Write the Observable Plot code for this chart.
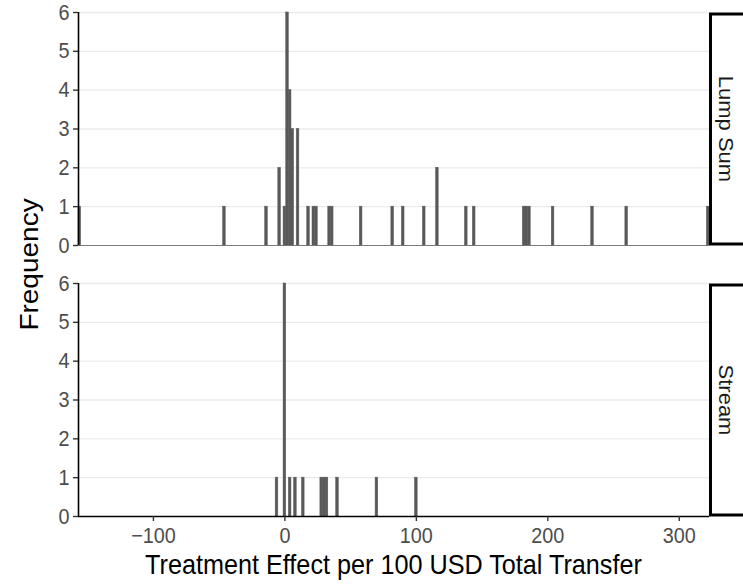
<!DOCTYPE html>
<html>
<head>
<meta charset="utf-8">
<script src="https://cdn.jsdelivr.net/npm/d3@7"></script>
<script src="https://cdn.jsdelivr.net/npm/@observablehq/plot@0.6"></script>
<style>
  html, body { margin: 0; padding: 0; background: #ffffff; }
  #chart svg { display: block; }
</style>
</head>
<body>
<div id="chart"></div>
<script>
// Facet panels (transfer modality)
const panels = ["Lump Sum", "Stream"];

// Treatment effects per 100 USD of total transfer, one entry per estimate
const lumpSumEffects = [
  -156, -46, -14, -4, -4, 0,
  2, 2, 2, 2, 2, 2,
  4, 4, 4, 4,
  6, 6, 6,
  10, 10, 10,
  18, 22, 24, 34, 36, 58, 82, 90, 106,
  116, 116, 138, 144, 182, 184, 186, 204, 234, 260, 322
];
const streamEffects = [
  -6, 0, 0, 0, 0, 0, 0, 4, 8, 14, 28, 30, 32, 40, 70, 100
];

// Axis ticks
const xTicks = [-100, 0, 100, 200, 300];
const yTicks = [0, 1, 2, 3, 4, 5, 6];

// Histogram layout: bins of width 2 with edges on odd numbers
const binWidth = 2;
const xLimits = [-157, 323];
const binEdges = d3.range(xLimits[0], xLimits[1] + binWidth / 2, binWidth);

const effects = [
  ...lumpSumEffects.map(effect => ({panel: "Lump Sum", effect})),
  ...streamEffects.map(effect => ({panel: "Stream", effect}))
];

const W = 743, H = 585;
const margin = {left: 78, right: 34, top: 12, bottom: 68};
const barColor = "#595959";
const glyphScaleX = 0.9; // slightly condensed lettering

const chart = Plot.plot({
  width: W,
  height: H,
  marginLeft: margin.left,
  marginRight: margin.right,
  marginTop: margin.top,
  marginBottom: margin.bottom,
  style: {fontFamily: "'Liberation Sans', Arial, sans-serif", background: "#ffffff", overflow: "visible"},
  x: {domain: xLimits, label: null},
  y: {domain: [0, 6], label: null},
  fy: {domain: panels, axis: null, label: null, paddingInner: 0.14, paddingOuter: 0},
  marks: [
    Plot.gridY(yTicks.filter(t => t > 0), {stroke: "#ebebeb", strokeOpacity: 1, strokeWidth: 1.4}),
    Plot.rectY(effects, Plot.binX(
      {y: "count"},
      {x: "effect", fy: "panel", thresholds: binEdges, fill: barColor, stroke: barColor, strokeWidth: 0.5, inset: 0}
    )),
    Plot.ruleY([0], {stroke: barColor, strokeWidth: 0.8}),
    Plot.ruleX([xLimits[0]], {stroke: "#000000", strokeWidth: 1.6}),
    Plot.ruleY([{panel: "Stream", y: 0}], {y: "y", fy: "panel", stroke: "#000000", strokeWidth: 1.6}),
    Plot.axisY(yTicks, {
      tickSize: 5, tickPadding: 4, fontSize: 22, fill: "#4d4d4d", stroke: "#333333", strokeWidth: 1.4, label: null
    }),
    Plot.axisX(xTicks, {
      tickSize: 5, tickPadding: 6, fontSize: 22, fill: "#4d4d4d", stroke: "#333333", strokeWidth: 1.4,
      label: null, tickFormat: d3.format("d")
    }),
    // facet strips on the right
    Plot.frame({stroke: "#000000", strokeWidth: 3, fill: "#ffffff", insetLeft: 632, insetRight: -40, insetTop: 1.5, insetBottom: 1.5}),
    Plot.text(panels, {
      fy: d => d, text: d => d, frameAnchor: "right", textAnchor: "middle", dx: 16, rotate: 90,
      fontSize: 22, fill: "#1a1a1a"
    })
  ]
});

document.getElementById("chart").append(chart);

// Axis titles
const svg = d3.select(chart);
const plotCenterX = (margin.left + (W - margin.right)) / 2;
const plotCenterY = (margin.top + (H - margin.bottom)) / 2;
const xTitle = svg.append("text")
  .attr("x", plotCenterX)
  .attr("y", 574)
  .attr("text-anchor", "middle")
  .attr("font-size", 28)
  .attr("fill", "#000000")
  .text("Treatment Effect per 100 USD Total Transfer");
svg.append("text")
  .attr("transform", `translate(38,${plotCenterY}) rotate(-90) scale(1,${glyphScaleX})`)
  .attr("text-anchor", "middle")
  .attr("font-size", 28)
  .attr("fill", "#000000")
  .text("Frequency");

// Condense horizontal lettering (tick labels and x title)
svg.selectAll('g[aria-label$="tick label"] text').nodes().concat([xTitle.node()]).forEach(node => {
  const len = node.getComputedTextLength();
  node.setAttribute("textLength", len * glyphScaleX);
  node.setAttribute("lengthAdjust", "spacingAndGlyphs");
});

// Condense strip lettering across the glyph height
svg.selectAll('g[aria-label="text"] text').each(function() {
  const t = this.getAttribute("transform") || "";
  this.setAttribute("transform", `${t} scale(1,${glyphScaleX})`);
});
</script>
</body>
</html>
